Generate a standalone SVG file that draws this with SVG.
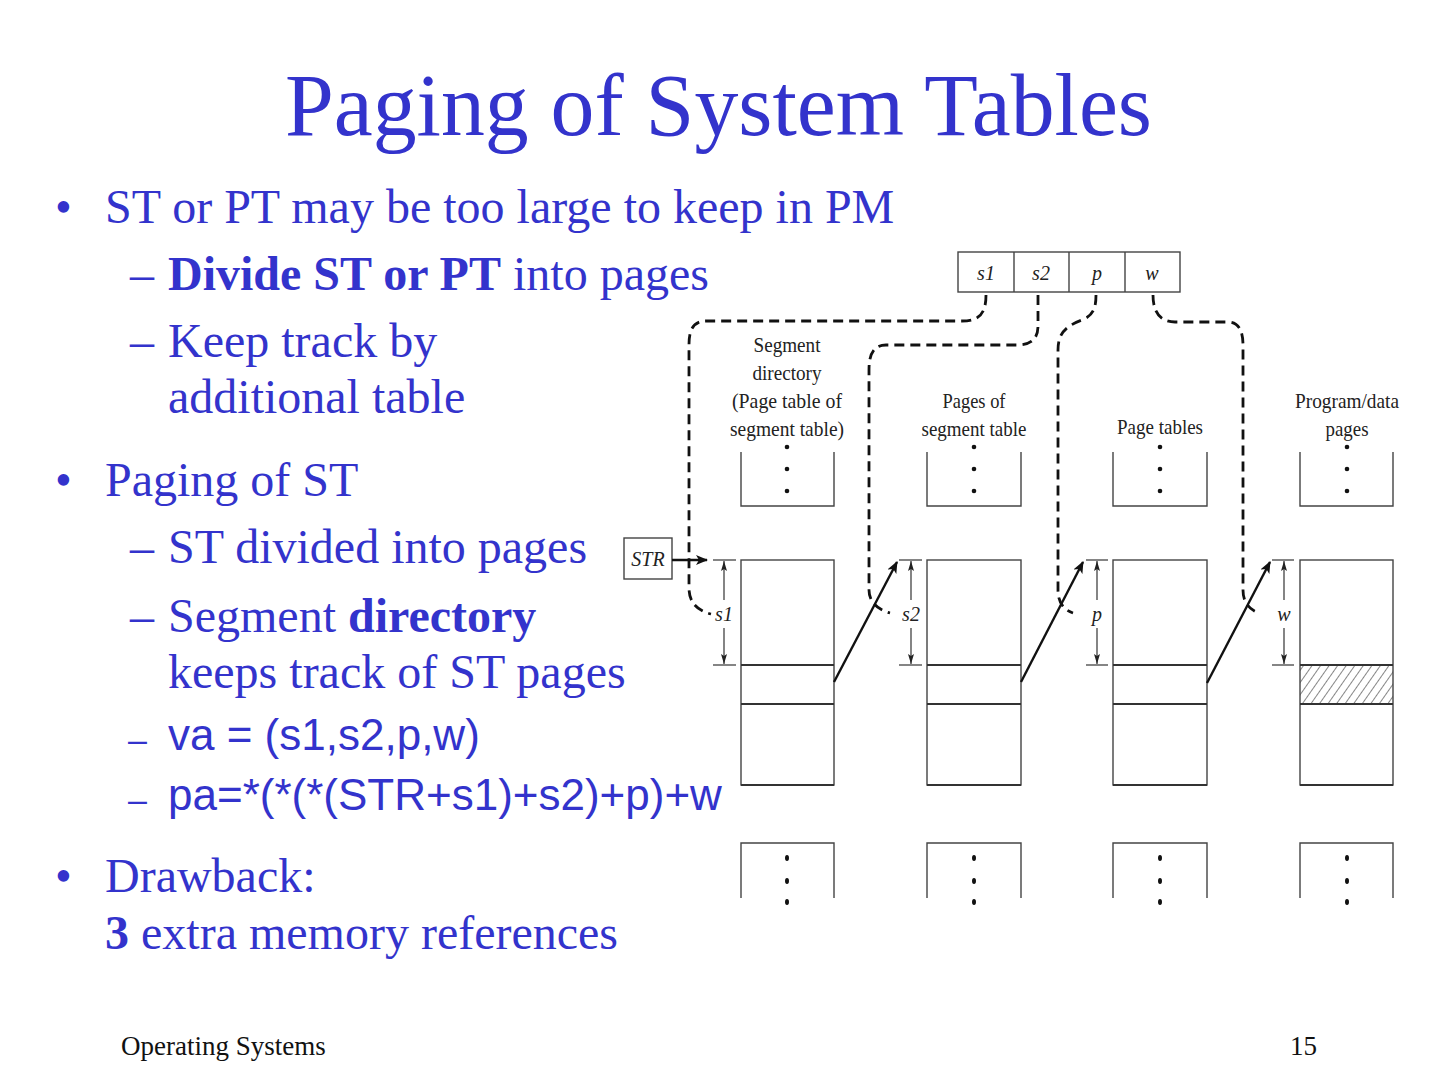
<svg xmlns="http://www.w3.org/2000/svg" width="1440" height="1080" viewBox="0 0 1440 1080">
<style>
.title{font-family:"Liberation Serif","Times New Roman",serif;font-size:88px;fill:#3333CC}
.b1{font-family:"Liberation Serif","Times New Roman",serif;font-size:48px;fill:#3333CC}
.sans{font-family:"Liberation Sans",Arial,sans-serif;font-size:44px;fill:#3333CC}
.bold{font-weight:bold}
.foot{font-family:"Liberation Serif","Times New Roman",serif;font-size:27px;fill:#111}
.lab{font-family:"Liberation Serif","Times New Roman",serif;font-size:22px;fill:#222;text-anchor:middle}
.it{font-family:"Liberation Serif","Times New Roman",serif;font-style:italic;font-size:20px;fill:#222;text-anchor:middle}
.thin{stroke:#444;stroke-width:1.4;fill:none}
.hl{stroke:#333;stroke-width:2;fill:none}
.dash{stroke:#111;stroke-width:2.8;fill:none;stroke-dasharray:10 6}
.solid{stroke:#111;stroke-width:2.4;fill:none}
.dim{stroke:#333;stroke-width:1.2;fill:none}
.dot{fill:#111}
</style>
<defs>
<marker id="ah" viewBox="0 0 12 10" refX="11" refY="5" markerWidth="12" markerHeight="10" markerUnits="userSpaceOnUse" orient="auto">
<path d="M0,0 L12,5 L0,10 L3,5 Z" fill="#111"/>
</marker>
<marker id="dh" viewBox="0 0 10 6" refX="10" refY="3" markerWidth="10" markerHeight="6" markerUnits="userSpaceOnUse" orient="auto-start-reverse">
<path d="M0,0 L10,3 L0,6 L2,3 Z" fill="#222"/>
</marker>
<pattern id="hatch" patternUnits="userSpaceOnUse" width="7" height="7" patternTransform="rotate(35)">
<line x1="0" y1="0" x2="0" y2="7" stroke="#222" stroke-width="1.1"/>
</pattern>
</defs>

<g id="title"><text class="title" x="285" y="135" textLength="867" lengthAdjust="spacingAndGlyphs">Paging of System Tables</text></g>

<g id="bullets">
<text class="b1" x="55" y="223">•</text>
<text class="b1" x="105" y="223">ST or PT may be too large to keep in PM</text>
<text class="b1" x="130" y="290">–</text>
<text class="b1" x="168" y="290"><tspan class="bold">Divide ST or PT</tspan> into pages</text>
<text class="b1" x="130" y="357">–</text>
<text class="b1" x="168" y="357">Keep track by</text>
<text class="b1" x="168" y="413">additional table</text>
<text class="b1" x="55" y="496">•</text>
<text class="b1" x="105" y="496">Paging of ST</text>
<text class="b1" x="130" y="563">–</text>
<text class="b1" x="168" y="563">ST divided into pages</text>
<text class="b1" x="130" y="632">–</text>
<text class="b1" x="168" y="632">Segment <tspan class="bold">directory</tspan></text>
<text class="b1" x="168" y="688">keeps track of ST pages</text>
<text class="sans" x="128" y="751" style="font-size:34px">–</text>
<text class="sans" x="168" y="750">va = (s1,s2,p,w)</text>
<text class="sans" x="128" y="811" style="font-size:34px">–</text>
<text class="sans" x="168" y="810">pa=*(*(*(STR+s1)+s2)+p)+w</text>
<text class="b1" x="55" y="892">•</text>
<text class="b1" x="105" y="892">Drawback:</text>
<text class="b1" x="105" y="949"><tspan class="bold">3</tspan> extra memory references</text>
</g>

<g id="footer">
<text class="foot" x="121" y="1055">Operating Systems</text>
<text class="foot" x="1290" y="1055">15</text>
</g>

<g id="register">
<rect x="958" y="252" width="222" height="40" class="thin"/>
<line x1="1014" y1="252" x2="1014" y2="292" class="thin"/>
<line x1="1069" y1="252" x2="1069" y2="292" class="thin"/>
<line x1="1125" y1="252" x2="1125" y2="292" class="thin"/>
<text class="it" x="986" y="280">s1</text>
<text class="it" x="1041" y="280">s2</text>
<text class="it" x="1097" y="280">p</text>
<text class="it" x="1152" y="280">w</text>
</g>

<g id="str">
<rect x="624" y="538" width="48" height="41" class="thin"/>
<text class="it" x="648" y="566">STR</text>
</g>

<g id="labels">
<text class="lab" x="787" y="352" textLength="67" lengthAdjust="spacingAndGlyphs">Segment</text>
<text class="lab" x="787" y="380" textLength="69" lengthAdjust="spacingAndGlyphs">directory</text>
<text class="lab" x="787" y="408" textLength="110" lengthAdjust="spacingAndGlyphs">(Page table of</text>
<text class="lab" x="787" y="436" textLength="114" lengthAdjust="spacingAndGlyphs">segment table)</text>
<text class="lab" x="974" y="408" textLength="63" lengthAdjust="spacingAndGlyphs">Pages of</text>
<text class="lab" x="974" y="436" textLength="105" lengthAdjust="spacingAndGlyphs">segment table</text>
<text class="lab" x="1160" y="434" textLength="86" lengthAdjust="spacingAndGlyphs">Page tables</text>
<text class="lab" x="1347" y="408" textLength="104" lengthAdjust="spacingAndGlyphs">Program/data</text>
<text class="lab" x="1347" y="436" textLength="43" lengthAdjust="spacingAndGlyphs">pages</text>
</g>

<g id="col1">
<path d="M741,452 V506 H834 V452" class="thin"/>
<circle cx="787" cy="447" r="2.3" class="dot"/><circle cx="787" cy="469" r="2.3" class="dot"/><circle cx="787" cy="491" r="2.3" class="dot"/>
<rect x="741" y="560" width="93" height="225" class="thin"/>
<line x1="741" y1="665" x2="834" y2="665" class="hl"/>
<line x1="741" y1="704" x2="834" y2="704" class="hl"/>
<line x1="741" y1="785" x2="834" y2="785" class="hl"/>
<path d="M741,898 V843 H834 V898" class="thin"/>
<ellipse cx="787" cy="858" rx="2" ry="3" class="dot"/><ellipse cx="787" cy="881" rx="2" ry="3" class="dot"/><ellipse cx="787" cy="902" rx="2" ry="3" class="dot"/>
</g>
<g id="col2">
<path d="M927,452 V506 H1021 V452" class="thin"/>
<circle cx="974" cy="447" r="2.3" class="dot"/><circle cx="974" cy="469" r="2.3" class="dot"/><circle cx="974" cy="491" r="2.3" class="dot"/>
<rect x="927" y="560" width="94" height="225" class="thin"/>
<line x1="927" y1="665" x2="1021" y2="665" class="hl"/>
<line x1="927" y1="704" x2="1021" y2="704" class="hl"/>
<line x1="927" y1="785" x2="1021" y2="785" class="hl"/>
<path d="M927,898 V843 H1021 V898" class="thin"/>
<ellipse cx="974" cy="858" rx="2" ry="3" class="dot"/><ellipse cx="974" cy="881" rx="2" ry="3" class="dot"/><ellipse cx="974" cy="902" rx="2" ry="3" class="dot"/>
</g>
<g id="col3">
<path d="M1113,452 V506 H1207 V452" class="thin"/>
<circle cx="1160" cy="447" r="2.3" class="dot"/><circle cx="1160" cy="469" r="2.3" class="dot"/><circle cx="1160" cy="491" r="2.3" class="dot"/>
<rect x="1113" y="560" width="94" height="225" class="thin"/>
<line x1="1113" y1="665" x2="1207" y2="665" class="hl"/>
<line x1="1113" y1="704" x2="1207" y2="704" class="hl"/>
<line x1="1113" y1="785" x2="1207" y2="785" class="hl"/>
<path d="M1113,898 V843 H1207 V898" class="thin"/>
<ellipse cx="1160" cy="858" rx="2" ry="3" class="dot"/><ellipse cx="1160" cy="881" rx="2" ry="3" class="dot"/><ellipse cx="1160" cy="902" rx="2" ry="3" class="dot"/>
</g>
<g id="col4">
<path d="M1300,452 V506 H1393 V452" class="thin"/>
<circle cx="1347" cy="447" r="2.3" class="dot"/><circle cx="1347" cy="469" r="2.3" class="dot"/><circle cx="1347" cy="491" r="2.3" class="dot"/>
<rect x="1300" y="665" width="93" height="39" fill="url(#hatch)"/>
<rect x="1300" y="560" width="93" height="225" class="thin"/>
<line x1="1300" y1="665" x2="1393" y2="665" class="hl"/>
<line x1="1300" y1="704" x2="1393" y2="704" class="hl"/>
<line x1="1300" y1="785" x2="1393" y2="785" class="hl"/>
<path d="M1300,898 V843 H1393 V898" class="thin"/>
<ellipse cx="1347" cy="858" rx="2" ry="3" class="dot"/><ellipse cx="1347" cy="881" rx="2" ry="3" class="dot"/><ellipse cx="1347" cy="902" rx="2" ry="3" class="dot"/>
</g>

<g id="dimensions">
<line x1="713" y1="560" x2="736" y2="560" class="dim"/><line x1="713" y1="665" x2="736" y2="665" class="dim"/>
<line x1="724" y1="600" x2="724" y2="561" class="dim" marker-end="url(#dh)"/>
<line x1="724" y1="628" x2="724" y2="664" class="dim" marker-end="url(#dh)"/>
<text class="it" x="724" y="621">s1</text>
<line x1="899" y1="560" x2="922" y2="560" class="dim"/><line x1="899" y1="665" x2="922" y2="665" class="dim"/>
<line x1="911" y1="600" x2="911" y2="561" class="dim" marker-end="url(#dh)"/>
<line x1="911" y1="628" x2="911" y2="664" class="dim" marker-end="url(#dh)"/>
<text class="it" x="911" y="621">s2</text>
<line x1="1086" y1="560" x2="1108" y2="560" class="dim"/><line x1="1086" y1="665" x2="1108" y2="665" class="dim"/>
<line x1="1097" y1="600" x2="1097" y2="561" class="dim" marker-end="url(#dh)"/>
<line x1="1097" y1="628" x2="1097" y2="664" class="dim" marker-end="url(#dh)"/>
<text class="it" x="1097" y="621">p</text>
<line x1="1272" y1="560" x2="1294" y2="560" class="dim"/><line x1="1272" y1="665" x2="1294" y2="665" class="dim"/>
<line x1="1284" y1="600" x2="1284" y2="561" class="dim" marker-end="url(#dh)"/>
<line x1="1284" y1="628" x2="1284" y2="664" class="dim" marker-end="url(#dh)"/>
<text class="it" x="1284" y="621">w</text>
</g>

<g id="connectors">
<line x1="672" y1="560" x2="707" y2="560" class="solid" stroke-width="2" marker-end="url(#ah)"/>
<line x1="834" y1="682" x2="897" y2="562" class="solid" marker-end="url(#ah)"/>
<line x1="1021" y1="682" x2="1083" y2="562" class="solid" marker-end="url(#ah)"/>
<line x1="1207" y1="683" x2="1270" y2="562" class="solid" marker-end="url(#ah)"/>
<path d="M986,295 C986,316 977,321 962,321 L706,321 C693,321 689,330 689,345 L689,588 C689,604 699,611 711,614" class="dash"/>
<path d="M1038,295 L1038,326 C1038,340 1030,345 1016,345 L886,345 C873,345 869,355 869,370 L869,590 C869,603 879,610 890,613" class="dash"/>
<path d="M1096,295 C1096,310 1092,316 1082,320 C1066,326 1058,333 1058,350 L1058,590 C1058,603 1064,610 1073,613" class="dash"/>
<path d="M1153,295 C1153,312 1160,322 1175,322 L1228,322 C1238,322 1243,330 1243,345 L1243,590 C1243,603 1250,610 1259,613" class="dash"/>
</g>
</svg>
